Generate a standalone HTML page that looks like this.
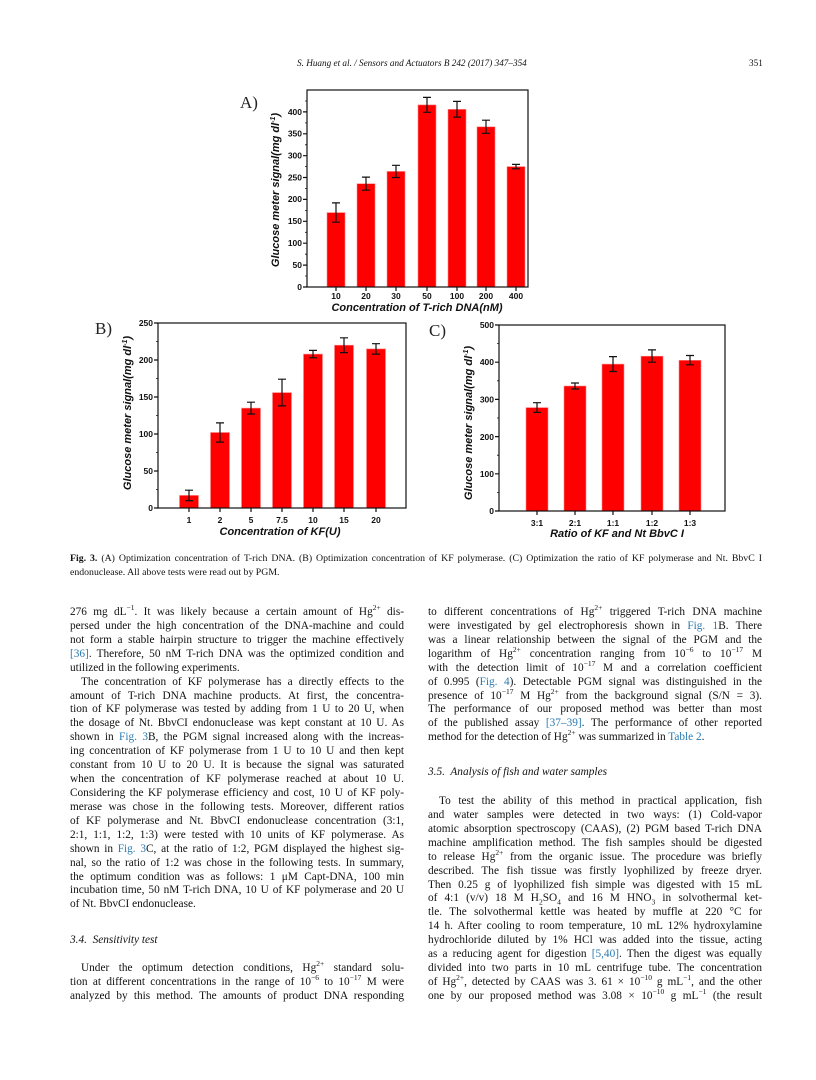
<!DOCTYPE html>
<html><head><meta charset="utf-8"><style>
body{margin:0;background:#fff;}
#p{position:relative;width:816px;height:1080px;overflow:hidden;background:#fff;font-family:"Liberation Serif",serif;color:#111;}
.c{position:absolute;width:334px;font-size:11.3px;}
.l{height:13.93px;line-height:13.93px;white-space:nowrap;text-align:justify;text-align-last:justify;}
.e{text-align-last:left;}
.i{padding-left:11px;}
a{color:#2a7ab0;text-decoration:none;}
sup,sub{font-size:7.5px;line-height:0;}
.h{font-style:italic;}
svg{position:absolute;left:0;top:0;}
svg text{font-family:"Liberation Sans",sans-serif;font-weight:bold;}
</style></head><body><div id="p">
<div style="position:absolute;left:297px;top:58px;font-size:9.2px;font-style:italic;">S. Huang et al. / Sensors and Actuators B 242 (2017) 347–354</div>
<div style="position:absolute;left:749px;top:58px;font-size:9.2px;">351</div>

<svg width="816" height="560" viewBox="0 0 816 560">
<g fill="#222">
<text x="240" y="108" style="font-family:'Liberation Serif',serif;font-weight:normal" font-size="17">A)</text>
<text x="95" y="334" style="font-family:'Liberation Serif',serif;font-weight:normal" font-size="17">B)</text>
<text x="429" y="336" style="font-family:'Liberation Serif',serif;font-weight:normal" font-size="17">C)</text>
</g>
<!-- Chart A -->
<g fill="#f00" stroke="#f88" stroke-width="0.6">
<rect x="327" y="212.6" width="18" height="74.4"/>
<rect x="357" y="183.7" width="18" height="103.3"/>
<rect x="387" y="171.4" width="18" height="115.6"/>
<rect x="418" y="104.9" width="18" height="182.1"/>
<rect x="448" y="109.3" width="18" height="177.7"/>
<rect x="477" y="126.8" width="18" height="160.2"/>
<rect x="507" y="166.6" width="18" height="120.4"/>
</g>
<g stroke="#111" stroke-width="1.2" fill="none">
<path d="M336 222.2V202.9M332 222.2h8M332 202.9h8"/>
<path d="M366 190.2V177.1M362 190.2h8M362 177.1h8"/>
<path d="M396 177.5V165.3M392 177.5h8M392 165.3h8"/>
<path d="M427 112.3V97.4M423 112.3h8M423 97.4h8"/>
<path d="M457 117.1V101.4M453 117.1h8M453 101.4h8"/>
<path d="M486 133.3V120.2M482 133.3h8M482 120.2h8"/>
<path d="M516 168.8V164.4M512 168.8h8M512 164.4h8"/>
<rect x="307" y="90" width="221" height="197"/>
<path d="M307 287h-4M307 265.1h-4M307 243.2h-4M307 221.3h-4M307 199.4h-4M307 177.5h-4M307 155.7h-4M307 133.8h-4M307 111.9h-4" />
<path d="M307 276h-2M307 254.2h-2M307 232.3h-2M307 210.4h-2M307 188.5h-2M307 166.6h-2M307 144.8h-2M307 122.9h-2M307 101h-2" stroke-width="0.8"/>
<path d="M336 287v4M366 287v4M396 287v4M427 287v4M457 287v4M486 287v4M516 287v4"/>
</g>
<g font-size="8.5" fill="#111" text-anchor="end">
<text x="302" y="290">0</text><text x="302" y="268">50</text><text x="302" y="246">100</text><text x="302" y="224">150</text><text x="302" y="202">200</text><text x="302" y="180.5">250</text><text x="302" y="158.5">300</text><text x="302" y="136.5">350</text><text x="302" y="114.8">400</text>
</g>
<g font-size="8.5" fill="#111" text-anchor="middle">
<text x="336" y="299">10</text><text x="366" y="299">20</text><text x="396" y="299">30</text><text x="427" y="299">50</text><text x="457" y="299">100</text><text x="486" y="299">200</text><text x="516" y="299">400</text>
<text x="417" y="311" font-size="11" font-style="italic">Concentration of T-rich DNA(nM)</text>
<text transform="translate(279,190) rotate(-90)" font-size="11" font-style="italic">Glucose meter signal(mg dl<tspan font-size="7" dy="-4">-1</tspan><tspan dy="4">)</tspan></text>
</g>

<!-- Chart B -->
<g fill="#f00" stroke="#f88" stroke-width="0.6">
<rect x="179.5" y="495.4" width="19" height="12.6"/>
<rect x="210.5" y="432.5" width="19" height="75.5"/>
<rect x="241.5" y="408.1" width="19" height="99.9"/>
<rect x="272.5" y="392.6" width="19" height="115.4"/>
<rect x="303.5" y="354.1" width="19" height="153.9"/>
<rect x="334.5" y="345.2" width="19" height="162.8"/>
<rect x="366.5" y="348.9" width="19" height="159.1"/>
</g>
<g stroke="#111" stroke-width="1.2" fill="none">
<path d="M189 500.6V490.2M185 500.6h8M185 490.2h8"/>
<path d="M220 442.1V422.9M216 442.1h8M216 422.9h8"/>
<path d="M251 414V402.2M247 414h8M247 402.2h8"/>
<path d="M282 405.9V379.2M278 405.9h8M278 379.2h8"/>
<path d="M313 357.8V350.4M309 357.8h8M309 350.4h8"/>
<path d="M344 352.6V337.8M340 352.6h8M340 337.8h8"/>
<path d="M376 354.1V343.7M372 354.1h8M372 343.7h8"/>
<rect x="158" y="323" width="248" height="185"/>
<path d="M158 508h-4M158 471h-4M158 434h-4M158 397h-4M158 360h-4M158 323h-4"/>
<path d="M158 489.5h-2M158 452.5h-2M158 415.5h-2M158 378.5h-2M158 341.5h-2" stroke-width="0.8"/>
<path d="M189 508v4M220 508v4M251 508v4M282 508v4M313 508v4M344 508v4M376 508v4"/>
</g>
<g font-size="8.5" fill="#111" text-anchor="end">
<text x="153" y="511">0</text><text x="153" y="474">50</text><text x="153" y="437">100</text><text x="153" y="400">150</text><text x="153" y="363">200</text><text x="153" y="326">250</text>
</g>
<g font-size="8.5" fill="#111" text-anchor="middle">
<text x="189" y="523">1</text><text x="220" y="523">2</text><text x="251" y="523">5</text><text x="282" y="523">7.5</text><text x="313" y="523">10</text><text x="344" y="523">15</text><text x="376" y="523">20</text>
<text x="280" y="535" font-size="11" font-style="italic">Concentration of KF(U)</text>
<text transform="translate(131,413) rotate(-90)" font-size="11" font-style="italic">Glucose meter signal(mg dl<tspan font-size="7" dy="-4">-1</tspan><tspan dy="4">)</tspan></text>
</g>

<!-- Chart C -->
<g fill="#f00" stroke="#f88" stroke-width="0.6">
<rect x="526" y="407.6" width="22" height="103.4"/>
<rect x="564" y="386" width="22" height="125"/>
<rect x="602" y="364.1" width="22" height="146.9"/>
<rect x="641" y="356.2" width="22" height="154.8"/>
<rect x="679" y="360.3" width="22" height="150.7"/>
</g>
<g stroke="#111" stroke-width="1.2" fill="none">
<path d="M537 412.4V402.7M533 412.4h8M533 402.7h8"/>
<path d="M575 389V383M571 389h8M571 383h8"/>
<path d="M613 371.5V356.6M609 371.5h8M609 356.6h8"/>
<path d="M652 362.2V349.9M648 362.2h8M648 349.9h8"/>
<path d="M690 364.8V355.5M686 364.8h8M686 355.5h8"/>
<rect x="499" y="325" width="226" height="186"/>
<path d="M499 511h-4M499 473.8h-4M499 436.6h-4M499 399.4h-4M499 362.2h-4M499 325h-4"/>
<path d="M499 492.4h-2M499 455.2h-2M499 418h-2M499 380.8h-2M499 343.6h-2" stroke-width="0.8"/>
<path d="M537 511v4M575 511v4M613 511v4M652 511v4M690 511v4"/>
</g>
<g font-size="8.5" fill="#111" text-anchor="end">
<text x="494" y="514">0</text><text x="494" y="477">100</text><text x="494" y="440">200</text><text x="494" y="402.5">300</text><text x="494" y="365">400</text><text x="494" y="328">500</text>
</g>
<g font-size="8.5" fill="#111" text-anchor="middle">
<text x="537" y="526">3:1</text><text x="575" y="526">2:1</text><text x="613" y="526">1:1</text><text x="652" y="526">1:2</text><text x="690" y="526">1:3</text>
<text x="617" y="537" font-size="11" font-style="italic">Ratio of KF and Nt BbvC I</text>
<text transform="translate(472,423) rotate(-90)" font-size="11" font-style="italic">Glucose meter signal(mg dl<tspan font-size="7" dy="-4">-1</tspan><tspan dy="4">)</tspan></text>
</g>
</svg>

<div style="position:absolute;left:70px;top:552px;width:692px;font-size:9.8px;line-height:13px;">
<div class="l"><b>Fig. 3.</b> (A) Optimization concentration of T-rich DNA. (B) Optimization concentration of KF polymerase. (C) Optimization the ratio of KF polymerase and Nt. BbvC I</div>
<div class="l e">endonuclease. All above tests were read out by PGM.</div>
</div>

<div class="c" style="left:70px;top:606px;">
<div class="l">276 mg dL<sup>−1</sup>. It was likely because a certain amount of Hg<sup>2+</sup> dis-</div>
<div class="l">persed under the high concentration of the DNA-machine and could</div>
<div class="l">not form a stable hairpin structure to trigger the machine effectively</div>
<div class="l"><a>[36]</a>. Therefore, 50 nM T-rich DNA was the optimized condition and</div>
<div class="l e">utilized in the following experiments.</div>
<div class="l i">The concentration of KF polymerase has a directly effects to the</div>
<div class="l">amount of T-rich DNA machine products. At first, the concentra-</div>
<div class="l">tion of KF polymerase was tested by adding from 1 U to 20 U, when</div>
<div class="l">the dosage of Nt. BbvCI endonuclease was kept constant at 10 U. As</div>
<div class="l">shown in <a>Fig. 3</a>B, the PGM signal increased along with the increas-</div>
<div class="l">ing concentration of KF polymerase from 1 U to 10 U and then kept</div>
<div class="l">constant from 10 U to 20 U. It is because the signal was saturated</div>
<div class="l">when the concentration of KF polymerase reached at about 10 U.</div>
<div class="l">Considering the KF polymerase efficiency and cost, 10 U of KF poly-</div>
<div class="l">merase was chose in the following tests. Moreover, different ratios</div>
<div class="l">of KF polymerase and Nt. BbvCI endonuclease concentration (3:1,</div>
<div class="l">2:1, 1:1, 1:2, 1:3) were tested with 10 units of KF polymerase. As</div>
<div class="l">shown in <a>Fig. 3</a>C, at the ratio of 1:2, PGM displayed the highest sig-</div>
<div class="l">nal, so the ratio of 1:2 was chose in the following tests. In summary,</div>
<div class="l">the optimum condition was as follows: 1 μM Capt-DNA, 100 min</div>
<div class="l">incubation time, 50 nM T-rich DNA, 10 U of KF polymerase and 20 U</div>
<div class="l e">of Nt. BbvCI endonuclease.</div>
</div>
<div class="c" style="left:70px;top:934px;"><div class="l e h">3.4.&nbsp; Sensitivity test</div></div>
<div class="c" style="left:70px;top:962px;">
<div class="l i">Under the optimum detection conditions, Hg<sup>2+</sup> standard solu-</div>
<div class="l">tion at different concentrations in the range of 10<sup>−6</sup> to 10<sup>−17</sup> M were</div>
<div class="l">analyzed by this method. The amounts of product DNA responding</div>
</div>

<div class="c" style="left:428px;top:606px;">
<div class="l">to different concentrations of Hg<sup>2+</sup> triggered T-rich DNA machine</div>
<div class="l">were investigated by gel electrophoresis shown in <a>Fig. 1</a>B. There</div>
<div class="l">was a linear relationship between the signal of the PGM and the</div>
<div class="l">logarithm of Hg<sup>2+</sup> concentration ranging from 10<sup>−6</sup> to 10<sup>−17</sup> M</div>
<div class="l">with the detection limit of 10<sup>−17</sup> M and a correlation coefficient</div>
<div class="l">of 0.995 (<a>Fig. 4</a>). Detectable PGM signal was distinguished in the</div>
<div class="l">presence of 10<sup>−17</sup> M Hg<sup>2+</sup> from the background signal (S/N = 3).</div>
<div class="l">The performance of our proposed method was better than most</div>
<div class="l">of the published assay <a>[37–39]</a>. The performance of other reported</div>
<div class="l e">method for the detection of Hg<sup>2+</sup> was summarized in <a>Table 2</a>.</div>
</div>
<div class="c" style="left:428px;top:766px;"><div class="l e h">3.5.&nbsp; Analysis of fish and water samples</div></div>
<div class="c" style="left:428px;top:795px;">
<div class="l i">To test the ability of this method in practical application, fish</div>
<div class="l">and water samples were detected in two ways: (1) Cold-vapor</div>
<div class="l">atomic absorption spectroscopy (CAAS), (2) PGM based T-rich DNA</div>
<div class="l">machine amplification method. The fish samples should be digested</div>
<div class="l">to release Hg<sup>2+</sup> from the organic issue. The procedure was briefly</div>
<div class="l">described. The fish tissue was firstly lyophilized by freeze dryer.</div>
<div class="l">Then 0.25 g of lyophilized fish simple was digested with 15 mL</div>
<div class="l">of 4:1 (v/v) 18 M H<sub>2</sub>SO<sub>4</sub> and 16 M HNO<sub>3</sub> in solvothermal ket-</div>
<div class="l">tle. The solvothermal kettle was heated by muffle at 220 °C for</div>
<div class="l">14 h. After cooling to room temperature, 10 mL 12% hydroxylamine</div>
<div class="l">hydrochloride diluted by 1% HCl was added into the tissue, acting</div>
<div class="l">as a reducing agent for digestion <a>[5,40]</a>. Then the digest was equally</div>
<div class="l">divided into two parts in 10 mL centrifuge tube. The concentration</div>
<div class="l">of Hg<sup>2+</sup>, detected by CAAS was 3. 61 × 10<sup>−10</sup> g mL<sup>−1</sup>, and the other</div>
<div class="l">one by our proposed method was 3.08 × 10<sup>−10</sup> g mL<sup>−1</sup> (the result</div>
</div>
</div></body></html>
